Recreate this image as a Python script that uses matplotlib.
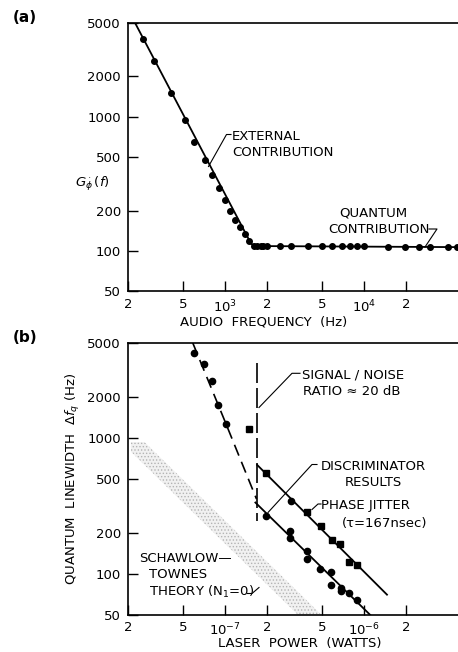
import numpy as np
import matplotlib
matplotlib.use("Agg")
import matplotlib.pyplot as plt
from matplotlib.ticker import NullLocator, FixedLocator, FixedFormatter
from matplotlib.lines import Line2D

# panel (a) data: measured spectrum G(f)
freq_pts = [258, 306, 410, 514, 600, 712, 804, 902, 1002, 1090, 1182, 1272, 1388, 1492,
            1612, 1703, 1802, 1882, 1990, 2481, 2962, 3926, 4950, 5870, 6890, 7910,
            8924, 9970, 14920, 19670, 24920, 29770, 39900, 46800]
g_pts = [3815, 2628, 1503, 946, 652, 481, 369, 296, 242, 199, 170, 150, 133, 119,
         109, 109, 109, 109, 109, 109, 109, 109, 109, 109, 109, 109,
         109, 109, 108, 107, 108, 108, 107, 107]
# fitted curve through the points
fit_freq = [225, 1540, 1750, 50000]
fit_g = [5000, 113, 109, 107]

# panel (b) data
dash_circ_p = [6.0e-8, 7.04e-8, 8.04e-8, 8.92e-8, 1.008e-7]
dash_circ_l = [4200, 3485, 2630, 1750, 1262]
lone_sq_p = [1.476e-7]
lone_sq_l = [1160]
disc_p = [1.956e-7, 2.93e-7, 2.93e-7, 3.9e-7, 3.9e-7, 4.8e-7, 5.77e-7, 5.77e-7,
          6.78e-7, 6.78e-7, 7.8e-7, 8.83e-7, 2.98e-7]
disc_l = [268, 205, 184, 147, 129, 108, 103, 82, 78, 74, 72, 64, 341]
jit_p = [1.956e-7, 3.86e-7, 4.89e-7, 5.84e-7, 6.7e-7, 7.72e-7, 8.83e-7]
jit_l = [551, 284, 223, 176, 166, 122, 115]

dash_fit_p = [5.85e-8, 1.02e-7, 1.68e-7]
dash_fit_l = [5000, 1250, 355]
low_fit_p = [1.65e-7, 1.12e-6]
low_fit_l = [334, 49]
up_fit_p = [1.70e-7, 1.46e-6]
up_fit_l = [632, 70]
snr_p = [1.70e-7, 1.70e-7]
snr_l = [3580, 243]

# Schawlow-Townes band: L = C / P
st_c_low = 1.66e-5
st_c_high = 2.45e-5
st_cap = 930
st_p = np.logspace(np.log10(2.1e-8), np.log10(5.2e-7), 200)

W, H = 458, 652
plt.rcParams["hatch.linewidth"] = 0.6
fig = plt.figure(figsize=(W / 100, H / 100), dpi=100)
FS = 9.5


def fx(x):
    return x / W


def fy(y):
    return 1 - y / H


def txt(x, y, s, ha="left", **kw):
    fig.text(fx(x), fy(y), s, ha=ha, va="center", fontsize=kw.pop("fontsize", FS), **kw)


def leader(pts):
    xs = [fx(p[0]) for p in pts]
    ys = [fy(p[1]) for p in pts]
    fig.add_artist(Line2D(xs, ys, color="black", lw=0.8, transform=fig.transFigure))


def setup(ax, xlim, xt, xl):
    ax.set_xscale("log")
    ax.set_yscale("log")
    ax.set_xlim(*xlim)
    ax.set_ylim(50, 5000)
    ax.xaxis.set_major_locator(FixedLocator(xt))
    ax.xaxis.set_major_formatter(FixedFormatter(xl))
    ax.xaxis.set_minor_locator(NullLocator())
    yt = [50, 100, 200, 500, 1000, 2000, 5000]
    ax.yaxis.set_major_locator(FixedLocator(yt))
    ax.yaxis.set_major_formatter(FixedFormatter([str(v) for v in yt]))
    ax.yaxis.set_minor_locator(NullLocator())
    ax.tick_params(direction="in", length=7, width=1, labelsize=FS, pad=5)
    for s in ax.spines.values():
        s.set_linewidth(1.2)


# ---- panel (a)
ax1 = fig.add_axes([fx(128), fy(291.5), 333.3 / W, 268.5 / H])
setup(ax1, (200, 5e4), [200, 500, 1000, 2000, 5000, 1e4, 2e4, 5e4],
      ["2", "5", "$10^3$", "2", "5", "$10^4$", "2", "5"])
ax1.plot(fit_freq, fit_g, color="black", lw=1.3)
ax1.plot(freq_pts, g_pts, "o", color="black", ms=4)

# ---- panel (b)
ax2 = fig.add_axes([fx(128), fy(614.5), 333.3 / W, 271.5 / H])
setup(ax2, (2e-8, 5e-6), [2e-8, 5e-8, 1e-7, 2e-7, 5e-7, 1e-6, 2e-6, 5e-6],
      ["2", "5", "$10^{-7}$", "2", "5", "$10^{-6}$", "2", "5"])
st_hi = np.minimum(st_c_high / st_p, st_cap)
st_lo = st_c_low / st_p
ax2.fill_between(st_p, st_lo, st_hi, where=st_hi > st_lo, facecolor="#f1f1f1",
                 edgecolor="#b4b4b4", hatch=".....", lw=0)
ax2.plot(dash_fit_p, dash_fit_l, color="black", lw=1.2, dashes=[7, 4])
ax2.plot(snr_p, snr_l, color="black", lw=1.2, dashes=[12, 3])
ax2.plot(low_fit_p, low_fit_l, color="black", lw=1.3)
ax2.plot(up_fit_p, up_fit_l, color="black", lw=1.3)
ax2.plot(dash_circ_p, dash_circ_l, "o", color="black", ms=4.5)
ax2.plot(disc_p, disc_l, "o", color="black", ms=4.5)
ax2.plot(jit_p + lone_sq_p, jit_l + lone_sq_l, "s", color="black", ms=4.5)

# ---- labels and notes
txt(13, 17, "(a)", fontsize=11, fontweight="bold")
txt(13, 337, "(b)", fontsize=11, fontweight="bold")
txt(75, 184, r"$G_{\dot{\phi}}\,(f)$", fontsize=FS)
txt(264, 322, "AUDIO  FREQUENCY  (Hz)", ha="center")
txt(300, 643, "LASER  POWER  (WATTS)", ha="center")
fig.text(fx(73), fy(479), r"QUANTUM  LINEWIDTH  $\Delta f_q$ (Hz)", rotation=90,
         ha="center", va="center", fontsize=FS)

txt(232, 136, "EXTERNAL")
txt(232, 153, "CONTRIBUTION")
leader([(231, 134.5), (226.5, 134.5), (208.5, 166.5)])
txt(373, 213, "QUANTUM", ha="center")
txt(328, 229, "CONTRIBUTION")
leader([(429, 229), (437, 229), (425, 247)])

txt(302, 375, "SIGNAL / NOISE")
txt(303, 391.5, "RATIO \u2248 20 dB")
leader([(300, 373.3), (292, 373.3), (259, 407.5)])
txt(321, 466, "DISCRIMINATOR")
txt(373, 483, "RESULTS", ha="center")
leader([(317, 464.5), (312, 464.5), (268, 512.5)])
txt(321, 506, "PHASE JITTER")
txt(341.5, 523, "(\u03c4=167nsec)")
leader([(321, 504), (318, 504), (312, 509.5)])
txt(139, 558, "SCHAWLOW\u2014")
txt(149, 575, "TOWNES")
txt(149, 592, r"THEORY (N$_1$=0)")
leader([(247.5, 593.5), (252, 593.5), (259, 587.5)])

fig.savefig("out.png", dpi=100)
